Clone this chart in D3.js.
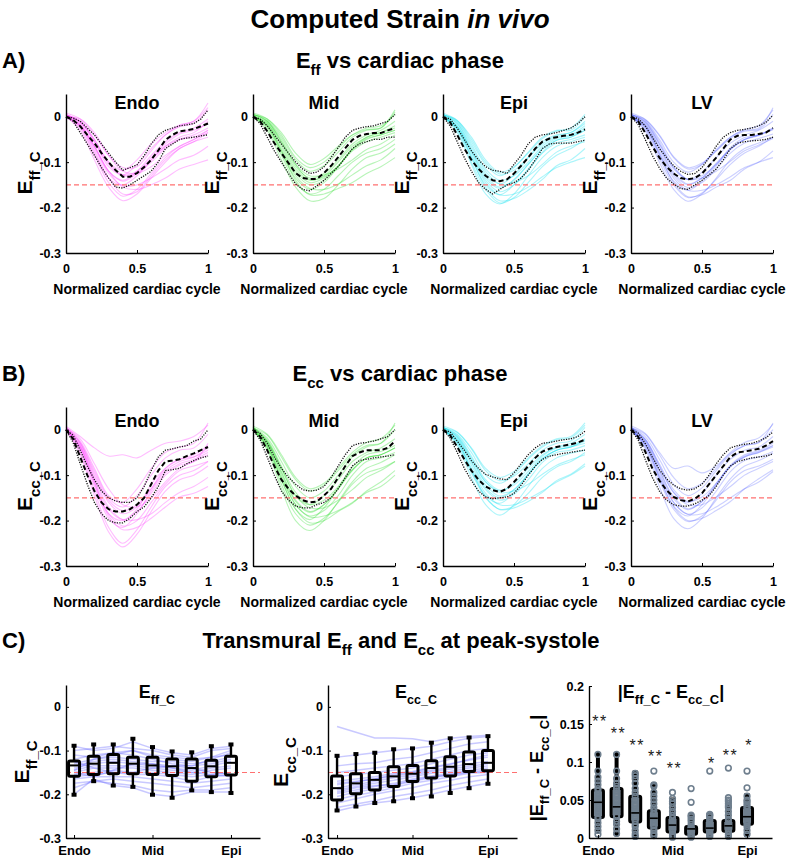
<!DOCTYPE html>
<html><head><meta charset="utf-8">
<script src="https://cdn.jsdelivr.net/npm/d3@7"></script>
<style>
body{margin:0;background:#fff;}
text{font-family:"Liberation Sans",Arial,Helvetica,sans-serif;white-space:pre;}
</style></head><body>
<svg id="chart" width="800" height="859"></svg>
<script>
// ---------------- DATA ----------------
const regions = ["Endo","Mid","Epi","LV"];
const phase21 = [0,0.05,0.1,0.15,0.2,0.25,0.3,0.35,0.4,0.45,0.5,0.55,0.6,0.65,0.7,0.75,0.8,0.85,0.9,0.95,1];
const phase11 = [0,0.1,0.2,0.3,0.4,0.5,0.6,0.7,0.8,0.9,1];
const cycleTicks = [0,0.5,1];
const strainTicks = [0,-0.1,-0.2,-0.3];
const strainThreshold = -0.15;
// strain values below are in units of 1e-3

// --- A) Eff individual curves (at phase11) ---
const effEndoCurves = [
[5,-15,-65,-120,-140,-120,-85,-55,-35,-25,-5],
[3,-10,-50,-100,-128,-120,-90,-60,-38,-30,-15],
[0,-25,-85,-145,-175,-160,-125,-90,-65,-50,-30],
[8,-5,-40,-85,-112,-110,-75,-40,-20,-10,20],
[0,-20,-70,-125,-152,-150,-135,-115,-95,-85,-65],
[0,-30,-95,-155,-185,-170,-135,-100,-70,-55,-35],
[5,-10,-50,-100,-118,-95,-60,-35,-18,-10,30],
[0,-20,-65,-120,-155,-160,-150,-135,-115,-105,-95],
[2,-12,-55,-105,-130,-125,-100,-70,-50,-40,-25],
[0,-22,-80,-135,-150,-130,-95,-65,-50,-45,-30],
[5,-12,-55,-110,-128,-105,-70,-40,-22,-15,15],
[0,-18,-75,-135,-170,-165,-130,-95,-70,-55,-45],
[0,-5,-35,-85,-120,-125,-110,-85,-65,-50,-35],
[3,-18,-65,-120,-142,-125,-95,-65,-45,-35,-10]];
const effMidCurves = [
[5,-10,-55,-110,-135,-125,-95,-60,-40,-30,-10],
[0,-25,-85,-145,-170,-160,-130,-100,-80,-70,-50],
[8,-5,-40,-90,-112,-100,-70,-40,-25,-20,5],
[0,-20,-75,-130,-158,-160,-148,-128,-108,-95,-70],
[3,-15,-60,-115,-140,-130,-100,-65,-45,-35,-25],
[0,-30,-95,-155,-185,-180,-150,-115,-90,-80,-60],
[5,-8,-45,-95,-120,-108,-78,-45,-30,-25,15],
[0,-18,-70,-125,-150,-140,-110,-75,-55,-45,-35],
[2,-12,-55,-105,-130,-128,-115,-95,-72,-60,-40],
[0,-22,-80,-135,-160,-145,-110,-70,-45,-35,-20],
[5,-10,-50,-105,-138,-132,-108,-72,-48,-40,-30],
[0,-20,-75,-140,-172,-170,-158,-145,-125,-110,-90],
[4,-5,-35,-80,-105,-92,-65,-40,-28,-25,10],
[0,-15,-65,-120,-145,-135,-108,-72,-50,-40,-30]];
const effEpiCurves = [
[5,-15,-70,-125,-148,-128,-90,-55,-40,-35,-10],
[0,-30,-100,-160,-190,-178,-145,-110,-85,-70,-50],
[8,-8,-45,-95,-122,-110,-80,-48,-32,-25,5],
[0,-25,-85,-145,-172,-170,-155,-132,-112,-100,-90],
[3,-20,-75,-130,-155,-140,-105,-72,-52,-45,-30],
[0,-35,-105,-170,-192,-170,-130,-90,-65,-55,-45],
[5,-10,-55,-105,-130,-112,-78,-45,-30,-30,0],
[0,-22,-80,-140,-165,-150,-118,-80,-58,-50,-40],
[2,-15,-65,-120,-148,-145,-130,-105,-78,-65,-55],
[0,-28,-90,-150,-172,-150,-115,-78,-52,-45,-30],
[5,-12,-60,-115,-140,-130,-100,-65,-45,-40,-20],
[0,-25,-90,-155,-185,-180,-162,-138,-108,-95,-70],
[4,-8,-50,-100,-126,-118,-90,-60,-42,-35,-15],
[0,-20,-75,-135,-158,-138,-105,-70,-48,-42,-25]];
const effLVCurves = [
[5,-12,-60,-115,-138,-122,-90,-58,-40,-30,-10],
[0,-28,-92,-150,-178,-168,-138,-105,-80,-65,-45],
[8,-6,-42,-90,-115,-105,-75,-45,-28,-20,15],
[0,-22,-80,-135,-162,-162,-150,-132,-112,-100,-90],
[3,-18,-67,-122,-148,-135,-102,-72,-50,-40,-28],
[0,-32,-100,-160,-186,-170,-135,-95,-70,-58,-45],
[5,-9,-50,-100,-122,-105,-72,-45,-30,-25,20],
[0,-20,-75,-130,-156,-145,-115,-80,-58,-48,-38],
[2,-14,-60,-112,-138,-135,-120,-98,-75,-62,-48],
[0,-25,-85,-142,-162,-142,-108,-72,-50,-42,-25],
[5,-11,-55,-110,-138,-130,-105,-68,-46,-40,-25],
[0,-22,-82,-145,-176,-172,-155,-140,-115,-100,-75],
[4,-6,-40,-88,-112,-102,-75,-48,-32,-28,5],
[0,-17,-68,-126,-150,-135,-105,-72,-50,-40,-28]];

// --- A) Eff mean / mean+sd / mean-sd (at phase21) ---
const effEndoMean  = [0,-7,-21,-40,-58,-80,-100,-118,-132,-132,-124,-111,-95,-74,-51,-40,-32,-30,-27,-21,-15];
const effEndoUpper = [0,-3,-10,-25,-40,-60,-80,-100,-118,-112,-106,-86,-60,-40,-30,-25,-20,-18,-15,-5,15];
const effEndoLower = [0,-10,-35,-60,-85,-112,-135,-155,-157,-150,-140,-130,-120,-100,-70,-60,-50,-47,-45,-42,-40];
const effMidMean   = [0,-10,-32,-58,-80,-102,-124,-135,-137,-137,-124,-108,-89,-69,-51,-42,-38,-36,-36,-30,-25];
const effMidUpper  = [0,-5,-20,-40,-60,-80,-100,-115,-125,-122,-110,-90,-68,-45,-30,-25,-22,-20,-15,-10,5];
const effMidLower  = [0,-15,-45,-75,-100,-125,-148,-160,-163,-152,-140,-125,-110,-90,-70,-60,-55,-50,-50,-45,-45];
const effEpiMean   = [0,-12,-40,-70,-95,-115,-130,-140,-142,-138,-125,-108,-90,-70,-55,-48,-45,-42,-40,-35,-28];
const effEpiUpper  = [0,-5,-25,-50,-75,-95,-110,-118,-120,-125,-105,-85,-60,-45,-40,-38,-35,-30,-25,-15,0];
const effEpiLower  = [0,-20,-55,-90,-120,-145,-160,-170,-160,-150,-145,-135,-118,-95,-70,-60,-58,-58,-58,-55,-52];
const effLVMean    = [0,-10,-35,-65,-90,-110,-125,-135,-138,-135,-125,-108,-90,-70,-50,-42,-40,-40,-38,-35,-25];
const effLVUpper   = [0,-4,-20,-45,-70,-90,-108,-120,-127,-125,-112,-90,-65,-45,-35,-30,-28,-25,-20,-12,3];
const effLVLower   = [0,-17,-50,-85,-113,-135,-148,-158,-160,-150,-140,-128,-115,-95,-70,-58,-55,-53,-52,-50,-45];

// --- B) Ecc individual curves (at phase11) ---
const eccEndoCurves = [
[0,-40,-115,-185,-200,-175,-120,-85,-65,-55,-35],
[5,-30,-95,-155,-178,-165,-130,-90,-70,-60,-40],
[0,-50,-135,-215,-250,-220,-170,-125,-100,-90,-70],
[8,-15,-40,-58,-55,-62,-45,-30,-25,-15,10],
[0,-35,-105,-170,-198,-198,-185,-160,-138,-125,-105],
[0,-55,-145,-225,-258,-230,-180,-135,-110,-100,-80],
[5,-25,-85,-145,-160,-130,-85,-50,-38,-30,15],
[0,-40,-120,-190,-220,-215,-195,-170,-148,-140,-125],
[2,-30,-100,-160,-185,-170,-130,-85,-65,-60,-45],
[0,-45,-125,-195,-215,-185,-135,-95,-75,-65,-50],
[5,-28,-90,-150,-170,-145,-100,-62,-45,-40,-10],
[0,-38,-115,-185,-212,-200,-160,-120,-90,-80,-70],
[3,-20,-75,-130,-165,-170,-150,-115,-85,-70,-55],
[0,-35,-110,-175,-198,-180,-140,-100,-78,-70,-30]];
const eccMidCurves = [
[5,-25,-85,-145,-165,-145,-110,-70,-50,-40,-20],
[0,-40,-120,-185,-210,-195,-160,-120,-95,-85,-70],
[8,-10,-55,-105,-130,-118,-85,-50,-28,-20,10],
[0,-35,-105,-165,-192,-190,-178,-160,-138,-125,-100],
[3,-28,-92,-155,-180,-165,-128,-88,-62,-55,-40],
[0,-45,-130,-200,-222,-200,-158,-115,-85,-72,-55],
[5,-18,-70,-125,-150,-135,-100,-60,-38,-30,15],
[0,-32,-100,-165,-190,-178,-145,-100,-70,-62,-50],
[2,-25,-85,-145,-172,-172,-155,-132,-105,-90,-70],
[0,-38,-110,-175,-198,-172,-130,-88,-62,-55,-40],
[5,-22,-80,-138,-165,-155,-125,-82,-55,-48,-35],
[0,-35,-110,-175,-205,-200,-180,-162,-135,-115,-90],
[4,-12,-60,-110,-135,-122,-90,-55,-35,-30,0],
[0,-28,-95,-158,-182,-165,-130,-90,-62,-55,-40]];
const eccEpiCurves = [
[5,-15,-65,-115,-135,-118,-85,-55,-38,-30,-10],
[0,-30,-95,-150,-175,-168,-140,-105,-82,-70,-50],
[8,-5,-40,-85,-105,-92,-62,-35,-20,-15,15],
[0,-25,-85,-140,-165,-165,-152,-135,-115,-100,-80],
[3,-18,-70,-122,-146,-132,-98,-65,-45,-38,-30],
[0,-35,-105,-165,-188,-165,-125,-85,-62,-52,-45],
[5,-10,-50,-100,-118,-98,-65,-38,-22,-18,10],
[0,-22,-78,-132,-155,-142,-110,-72,-50,-45,-35],
[2,-15,-62,-115,-138,-135,-120,-98,-78,-66,-55],
[0,-28,-90,-145,-162,-138,-100,-65,-45,-38,-25],
[5,-12,-58,-110,-133,-122,-92,-58,-40,-35,-20],
[0,-25,-88,-148,-176,-172,-158,-138,-112,-98,-75],
[4,-6,-42,-90,-112,-102,-75,-45,-30,-25,5],
[0,-20,-72,-128,-150,-132,-98,-62,-45,-38,-22]];
const eccLVCurves = [
[5,-22,-80,-138,-160,-140,-100,-65,-45,-38,-15],
[0,-38,-112,-175,-202,-190,-155,-115,-90,-80,-65],
[8,-8,-50,-85,-80,-95,-80,-50,-28,-18,12],
[0,-32,-100,-160,-186,-185,-170,-150,-130,-115,-92],
[3,-25,-88,-148,-174,-158,-118,-80,-58,-48,-35],
[0,-42,-125,-195,-218,-195,-150,-108,-80,-68,-52],
[5,-15,-65,-120,-145,-128,-90,-55,-35,-28,15],
[0,-30,-95,-160,-186,-172,-135,-92,-68,-60,-48],
[2,-22,-80,-138,-165,-165,-148,-125,-100,-85,-70],
[0,-35,-105,-168,-190,-165,-122,-80,-60,-50,-38],
[5,-20,-75,-132,-158,-148,-118,-78,-55,-46,-30],
[0,-32,-105,-170,-200,-195,-178,-158,-130,-108,-88],
[4,-10,-55,-105,-130,-118,-85,-52,-35,-28,0],
[0,-26,-90,-152,-176,-158,-122,-82,-60,-50,-35]];

// --- B) Ecc mean / mean+sd / mean-sd (at phase21) ---
const eccEndoMean  = [0,-20,-60,-100,-135,-160,-175,-180,-180,-175,-165,-150,-120,-90,-70,-68,-65,-58,-52,-45,-38];
const eccEndoUpper = [0,-12,-45,-80,-110,-135,-150,-157,-160,-160,-150,-125,-90,-60,-45,-42,-38,-35,-25,-20,0];
const eccEndoLower = [0,-28,-75,-120,-160,-185,-200,-205,-205,-195,-180,-170,-150,-125,-90,-88,-85,-75,-68,-62,-58];
const eccMidMean   = [0,-15,-45,-80,-110,-130,-145,-155,-160,-158,-145,-130,-105,-80,-58,-50,-45,-45,-45,-40,-25];
const eccMidUpper  = [0,-8,-30,-60,-85,-105,-120,-132,-135,-133,-125,-105,-80,-55,-35,-30,-28,-25,-20,-15,0];
const eccMidLower  = [0,-22,-60,-100,-135,-155,-168,-172,-172,-165,-160,-150,-130,-105,-80,-68,-65,-62,-60,-58,-55];
const eccEpiMean   = [0,-12,-38,-65,-90,-110,-125,-133,-137,-130,-115,-98,-80,-62,-48,-42,-38,-35,-32,-28,-22];
const eccEpiUpper  = [0,-5,-25,-45,-68,-85,-98,-104,-108,-110,-95,-75,-55,-40,-30,-28,-25,-22,-20,-15,-3];
const eccEpiLower  = [0,-18,-50,-85,-112,-135,-148,-152,-150,-148,-140,-122,-100,-80,-65,-58,-55,-52,-50,-47,-45];
const eccLVMean    = [0,-15,-48,-85,-112,-133,-148,-155,-158,-152,-140,-120,-100,-80,-60,-50,-48,-45,-42,-35,-25];
const eccLVUpper   = [0,-7,-30,-60,-88,-108,-122,-130,-133,-130,-120,-100,-75,-55,-40,-35,-32,-30,-25,-18,-5];
const eccLVLower   = [0,-22,-65,-105,-135,-155,-165,-168,-168,-163,-155,-145,-125,-100,-80,-70,-66,-62,-60,-58,-53];

// --- C) transmural positions ---
const positions = [1,2,3,4,5,6,7,8,9];
const positionTicks = [1,5,9];
const positionLabels = ["Endo","Mid","Epi"];

const effSubjects = [
[-90,-100,-95,-80,-95,-105,-110,-95,-90],
[-100,-95,-90,-95,-100,-110,-115,-100,-95],
[-120,-110,-105,-100,-110,-115,-120,-115,-100],
[-130,-120,-115,-120,-125,-125,-130,-125,-115],
[-135,-125,-120,-125,-130,-135,-135,-130,-120],
[-140,-130,-125,-130,-135,-140,-145,-135,-125],
[-145,-135,-135,-135,-140,-145,-150,-140,-135],
[-150,-140,-140,-140,-145,-150,-155,-145,-140],
[-155,-150,-145,-150,-150,-155,-160,-155,-150],
[-160,-155,-150,-155,-155,-160,-170,-160,-155],
[-165,-160,-160,-160,-165,-170,-175,-170,-165],
[-175,-170,-165,-170,-175,-180,-185,-180,-175],
[-185,-170,-175,-180,-190,-195,-190,-190,-185],
[-200,-165,-180,-185,-200,-205,-195,-195,-195],
[-145,-120,-110,-100,-115,-120,-125,-115,-110],
[-125,-140,-150,-150,-140,-135,-140,-150,-155],
[-150,-160,-145,-130,-130,-140,-150,-155,-160],
[-110,-115,-105,-110,-120,-130,-135,-120,-105]];
const effHi  = [-89,-86,-86,-73,-92,-102,-104,-90,-86];
const effQ3  = [-124,-113,-109,-115,-115,-119,-119,-122,-113];
const effMed = [-134,-130,-128,-130,-134,-136,-140,-136,-128];
const effQ1  = [-159,-155,-153,-153,-155,-157,-170,-160,-156];
const effLo  = [-201,-170,-180,-183,-201,-208,-191,-195,-197];

const eccSubjects = [
[-45,-58,-71,-71,-73,-80,-72,-68,-65],
[-115,-110,-105,-100,-95,-90,-80,-72,-68],
[-135,-130,-128,-120,-115,-105,-95,-85,-80],
[-150,-145,-140,-135,-130,-120,-110,-100,-95],
[-160,-155,-150,-145,-140,-130,-120,-110,-105],
[-170,-165,-160,-152,-148,-138,-130,-122,-115],
[-178,-172,-165,-158,-152,-145,-138,-130,-125],
[-185,-178,-170,-162,-156,-148,-142,-136,-130],
[-190,-182,-175,-168,-160,-152,-148,-140,-135],
[-198,-190,-182,-175,-165,-158,-152,-145,-140],
[-205,-195,-188,-180,-170,-162,-155,-148,-145],
[-212,-202,-195,-185,-175,-168,-160,-152,-150],
[-220,-210,-200,-192,-185,-175,-168,-160,-155],
[-230,-222,-215,-205,-198,-190,-180,-172,-165],
[-238,-228,-220,-215,-208,-200,-190,-182,-175],
[-195,-185,-180,-178,-168,-160,-156,-150,-148],
[-175,-170,-165,-155,-150,-140,-132,-120,-110]];
const eccHi  = [-112,-108,-105,-97,-95,-82,-72,-70,-67];
const eccQ3  = [-158,-153,-150,-137,-134,-123,-114,-103,-100];
const eccMed = [-186,-175,-167,-159,-153,-140,-137,-131,-128];
const eccQ1  = [-213,-199,-190,-182,-171,-163,-158,-148,-146];
const eccLo  = [-237,-228,-220,-216,-209,-205,-197,-186,-176];

const absTicks = [0,0.05,0.1,0.15,0.2];
const absHi  = [110,110,86,70,50,30,31,41,56];
const absQ3  = [63,65,55,36,27,15,23,23,40];
const absMed = [47,41,33,26,17,12,13,16,28];
const absQ1  = [27,28,21,13,8,5,8,9,18];
const absLo  = [10,6,2,3,1,1,2,2,5];
const absPoints = [
[110,88,80,75,70,65,62,58,55,52,50,48,45,42,38,35,32,28,25,20,15,10,5],
[110,88,78,72,68,65,62,58,55,50,48,45,42,40,38,35,30,28,22,18,12,6],
[85,82,78,72,65,60,55,50,45,42,38,35,32,28,25,22,18,15,10,5,2],
[88,70,68,60,55,50,45,40,36,32,28,26,24,20,16,13,10,6,3],
[60,52,48,45,40,35,30,26,22,20,18,16,14,12,10,8,5,3,1],
[65,47,30,28,25,22,18,15,13,12,11,10,8,6,5,3,1],
[88,31,30,28,25,23,20,18,15,13,12,10,8,6,4,2],
[92,53,50,48,45,42,40,35,30,25,23,20,18,16,14,12,10,8,5,2],
[88,66,55,50,48,45,42,40,38,35,32,30,28,25,22,20,18,15,10,5]];
const sigMarks = ["**","**","**","**","**","","*","**","*"];
const sigHeights = [158,142,126,112,96,0,103,113,126];

// ---------------- DRAWING ----------------
const svg = d3.select("#chart");
const FONT = '"Liberation Sans", Arial, Helvetica, sans-serif';
const fmt = d => String(+d.toFixed(3));
const m = v => v / 1000;

function rich(parent, x, y, segs, size, subSize, opts = {}) {
  const t = parent.append("text").attr("font-family", FONT).attr("font-weight", "bold")
    .attr("font-size", size).attr("fill", "#000").attr("text-anchor", opts.anchor || "middle");
  if (opts.rotate) t.attr("transform", `translate(${x},${y}) rotate(-90)`);
  else t.attr("x", x).attr("y", y);
  const shift = Math.round(size * (opts.shift || 0.33));
  let inSub = false;
  segs.forEach(seg => {
    const [s, sub, ital] = seg;
    const ts = t.append("tspan").text(s);
    if (sub) { ts.attr("font-size", subSize); if (!inSub) { ts.attr("dy", shift); inSub = true; } }
    else if (inSub) { ts.attr("dy", -shift); inSub = false; }
    if (ital) ts.attr("font-style", "italic");
  });
  return t;
}

function styleAxis(g, size) {
  g.attr("font-family", FONT);
  g.select(".domain").attr("stroke", "#000").attr("stroke-width", 1.4);
  g.selectAll(".tick line").attr("stroke", "#000").attr("stroke-width", 1);
  g.selectAll(".tick text").attr("font-family", FONT).attr("font-weight", "bold")
    .attr("font-size", size).attr("fill", "#000");
}

// Titles
rich(svg, 400, 28, [["Computed Strain ", false], ["in vivo", false, true]], 26, 26);
rich(svg, 2, 68, [["A)", false]], 22, 22, { anchor: "start" });
rich(svg, 400, 68, [["E", false], ["ff", true], [" vs cardiac phase", false]], 22, 15);
rich(svg, 2, 381, [["B)", false]], 22, 22, { anchor: "start" });
rich(svg, 400, 381, [["E", false], ["cc", true], [" vs cardiac phase", false]], 22, 15);
rich(svg, 2, 648, [["C)", false]], 22, 22, { anchor: "start" });
rich(svg, 401, 648, [["Transmural E", false], ["ff", true], [" and E", false], ["cc", true], [" at peak-systole", false]], 22, 15);

const regionColors = { Endo: "#ff33ff", Mid: "#22dd22", Epi: "#00e0f0", LV: "#3344ff" };
const regionOpacity = { Endo: 0.32, Mid: 0.32, Epi: 0.32, LV: 0.25 };
const panelLefts = [66, 253, 443, 631];

function linePanel(left, bottom, titleY, region, curves, mean, upper, lower, sub) {
  const g = svg.append("g");
  const x = d3.scaleLinear().domain([0, 1]).range([left, left + 142]);
  const y = d3.scaleLinear().domain([-0.3, 0.05]).range([bottom, bottom - 159]);
  const lineS = d3.line().x((d, i) => x(phase11[i])).y(d => y(m(d))).curve(d3.curveCatmullRom.alpha(0.5));
  g.selectAll("path.subj").data(curves).enter().append("path").attr("class", "subj")
    .attr("d", lineS).attr("fill", "none").attr("stroke", regionColors[region])
    .attr("stroke-opacity", regionOpacity[region]).attr("stroke-width", 1.1);
  g.append("line").attr("x1", x(0)).attr("x2", x(1)).attr("y1", y(strainThreshold)).attr("y2", y(strainThreshold))
    .attr("stroke", "#ff7070").attr("stroke-width", 1.1).attr("stroke-dasharray", "5,3");
  const lineM = d3.line().x((d, i) => x(phase21[i])).y(d => y(m(d)));
  [upper, lower].forEach(arr => g.append("path").attr("d", lineM(arr)).attr("fill", "none")
    .attr("stroke", "#111").attr("stroke-width", 1.3).attr("stroke-dasharray", "1.2,1.3"));
  g.append("path").attr("d", lineM(mean)).attr("fill", "none").attr("stroke", "#000")
    .attr("stroke-width", 2).attr("stroke-dasharray", "5,3");
  const ya = g.append("g").attr("transform", `translate(${left},0)`)
    .call(d3.axisLeft(y).tickValues(strainTicks).tickFormat(fmt).tickSizeInner(-3).tickSizeOuter(0).tickPadding(5));
  styleAxis(ya, 12.5);
  const xa = g.append("g").attr("transform", `translate(0,${bottom})`)
    .call(d3.axisBottom(x).tickValues(cycleTicks).tickFormat(fmt).tickSizeInner(-3).tickSizeOuter(0).tickPadding(11));
  styleAxis(xa, 12.5);
  rich(g, left + 71, titleY, [[region, false]], 18, 18);
  rich(g, left + 71, bottom + 41, [["Normalized cardiac cycle", false]], 14, 14);
  rich(g, left - 34, bottom - 80, [["E", false], [sub + "_C", true]], 21, 15, { rotate: true, shift: 0.36 });
}

const effSets = [
  [effEndoCurves, effEndoMean, effEndoUpper, effEndoLower],
  [effMidCurves, effMidMean, effMidUpper, effMidLower],
  [effEpiCurves, effEpiMean, effEpiUpper, effEpiLower],
  [effLVCurves, effLVMean, effLVUpper, effLVLower]];
const eccSets = [
  [eccEndoCurves, eccEndoMean, eccEndoUpper, eccEndoLower],
  [eccMidCurves, eccMidMean, eccMidUpper, eccMidLower],
  [eccEpiCurves, eccEpiMean, eccEpiUpper, eccEpiLower],
  [eccLVCurves, eccLVMean, eccLVUpper, eccLVLower]];
regions.forEach((r, i) => {
  linePanel(panelLefts[i], 253, 109, r, ...effSets[i], "ff");
  linePanel(panelLefts[i], 566, 427, r, ...eccSets[i], "cc");
});

// ---- C) box panels for Eff / Ecc ----
function boxPanel(left, right, dom, subjects, hi, q3, med, q1, lo, sub, titleX, ylabX) {
  const g = svg.append("g");
  const x = d3.scaleLinear().domain(dom).range([left, right]);
  const y = d3.scaleLinear().domain([-0.3, 0.05]).range([838, 685]);
  const ln = d3.line().x((d, i) => x(positions[i])).y(d => y(m(d)));
  g.selectAll("path.subj").data(subjects).enter().append("path").attr("d", ln)
    .attr("fill", "none").attr("stroke", "#3d3dff").attr("stroke-opacity", 0.28).attr("stroke-width", 1.5);
  g.append("line").attr("x1", left).attr("x2", right).attr("y1", y(strainThreshold)).attr("y2", y(strainThreshold))
    .attr("stroke", "#ff7070").attr("stroke-width", 1.1).attr("stroke-dasharray", "5,3");
  positions.forEach((p, i) => {
    const xc = x(p);
    g.append("line").attr("x1", xc).attr("x2", xc).attr("y1", y(m(hi[i]))).attr("y2", y(m(q3[i])))
      .attr("stroke", "#000").attr("stroke-width", 2.4);
    g.append("line").attr("x1", xc).attr("x2", xc).attr("y1", y(m(q1[i]))).attr("y2", y(m(lo[i])))
      .attr("stroke", "#000").attr("stroke-width", 2.4);
    [hi[i], lo[i]].forEach(v => g.append("rect").attr("x", xc - 2.5).attr("y", y(m(v)) - 2)
      .attr("width", 5).attr("height", 4).attr("fill", "#000"));
    g.append("rect").attr("x", xc - 5.5).attr("y", y(m(q3[i]))).attr("width", 11)
      .attr("height", y(m(q1[i])) - y(m(q3[i]))).attr("rx", 1.5)
      .attr("fill", "none").attr("stroke", "#000").attr("stroke-width", 3);
    g.append("line").attr("x1", xc - 5.5).attr("x2", xc + 5.5).attr("y1", y(m(med[i]))).attr("y2", y(m(med[i])))
      .attr("stroke", "#000").attr("stroke-width", 2);
  });
  const ya = g.append("g").attr("transform", `translate(${left},0)`)
    .call(d3.axisLeft(y).tickValues(strainTicks).tickFormat(fmt).tickSizeInner(-3).tickSizeOuter(0).tickPadding(5));
  styleAxis(ya, 12.5);
  const xa = g.append("g").attr("transform", "translate(0,838)")
    .call(d3.axisBottom(x).tickValues(positionTicks).tickFormat((d, i) => positionLabels[i]).tickSizeInner(-3).tickSizeOuter(0).tickPadding(8));
  styleAxis(xa, 13);
  rich(g, titleX, 698, [["E", false], [sub + "_C", true]], 18, 12.5, { shift: 0.36 });
  rich(g, ylabX, 762, [["E", false], [sub + "_C", true]], 21, 15, { rotate: true, shift: 0.36 });
}
boxPanel(66, 260, [0.59, 10.48], effSubjects, effHi, effQ3, effMed, effQ1, effLo, "ff", 157, 29);
boxPanel(328, 517, [0.52, 10.54], eccSubjects, eccHi, eccQ3, eccMed, eccQ1, eccLo, "cc", 416, 288);

// ---- C) |Eff - Ecc| panel ----
(function () {
  const g = svg.append("g");
  const left = 589, right = 772;
  const x = d3.scaleLinear().domain([0.52, 10.34]).range([left, right]);
  const y = d3.scaleLinear().domain([0, 0.2]).range([838, 686]);
  positions.forEach((p, i) => {
    const xc = x(p);
    g.append("line").attr("x1", xc).attr("x2", xc).attr("y1", y(m(absHi[i]))).attr("y2", y(m(absLo[i])))
      .attr("stroke", "#000").attr("stroke-width", 4);
    [absHi[i], absLo[i]].forEach(v => g.append("rect").attr("x", xc - 3).attr("y", y(m(v)) - 2.5)
      .attr("width", 6).attr("height", 5).attr("rx", 1.5).attr("fill", "#000"));
    g.append("rect").attr("x", xc - 5.5).attr("y", y(m(absQ3[i]))).attr("width", 11)
      .attr("height", y(m(absQ1[i])) - y(m(absQ3[i]))).attr("rx", 1.5)
      .attr("fill", "#7d8894").attr("stroke", "#000").attr("stroke-width", 3);
  });
  positions.forEach((p, i) => {
    g.selectAll(null).data(absPoints[i]).enter().append("circle")
      .attr("cx", x(p)).attr("cy", d => y(m(d))).attr("r", 2.8)
      .attr("fill", "none").attr("stroke", "#6f7f8e").attr("stroke-width", 1.6);
  });
  positions.forEach((p, i) => {
    const xc = x(p);
    g.append("line").attr("x1", xc - 4).attr("x2", xc + 4).attr("y1", y(m(absMed[i]))).attr("y2", y(m(absMed[i])))
      .attr("stroke", "#000").attr("stroke-width", 1.6);
    if (sigMarks[i]) g.append("text").attr("x", xc + 2).attr("y", y(m(sigHeights[i])) + 9)
      .attr("text-anchor", "middle").attr("font-family", FONT).attr("font-size", 16)
      .attr("letter-spacing", 1.5).attr("fill", "#1a1a1a").text(sigMarks[i]);
  });
  const ya = g.append("g").attr("transform", `translate(${left},0)`)
    .call(d3.axisLeft(y).tickValues(absTicks).tickFormat(fmt).tickSizeInner(-3).tickSizeOuter(0).tickPadding(5));
  styleAxis(ya, 12.5);
  const xa = g.append("g").attr("transform", "translate(0,838)")
    .call(d3.axisBottom(x).tickValues(positionTicks).tickFormat((d, i) => positionLabels[i]).tickSizeInner(-3).tickSizeOuter(0).tickPadding(8));
  styleAxis(xa, 13);
  const segs = [["|E", false], ["ff_C", true], [" - E", false], ["cc_C", true], ["|", false]];
  rich(g, 671, 698, segs, 18, 13, { shift: 0.36 });
  rich(g, 543, 768, segs, 18, 13, { rotate: true, shift: 0.36 });
})();
</script>
</body></html>
